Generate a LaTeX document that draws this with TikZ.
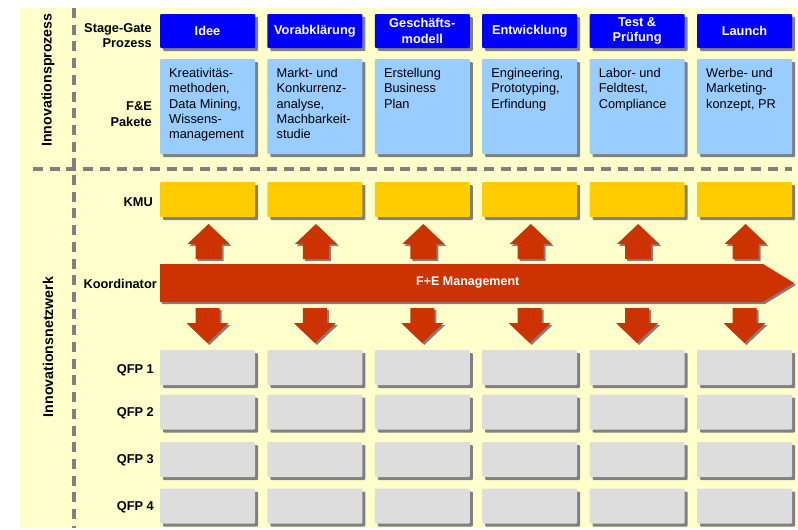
\documentclass[tikz,border=0pt]{standalone}
\usepackage{fontspec}
\setmainfont{Liberation Sans}
\usetikzlibrary{shadows}
\definecolor{bgyellow}{HTML}{FFFFCC}
\definecolor{sgblue}{HTML}{0000FF}
\definecolor{feblue}{HTML}{99CCFF}
\definecolor{kmuyellow}{HTML}{FFCC00}
\definecolor{coordred}{HTML}{CC3300}
\definecolor{qfpgray}{HTML}{DDDDDD}
\definecolor{shadowgray}{HTML}{808080}
\definecolor{dashgray}{HTML}{808080}
\begin{document}
\begin{tikzpicture}[x=1pt,y=-1pt,
  font=\fontsize{12.8}{15.3}\selectfont,
  boxshadow/.style={drop shadow={shadow xshift=3pt,shadow yshift=-3pt,fill=shadowgray,opacity=1}},
  cell/.style={boxshadow,draw=none,rounded corners=1pt,minimum width=95pt,inner sep=0pt},
  sgbox/.style={cell,fill=sgblue,minimum height=34pt,text=white,font=\fontsize{12.8}{15.3}\selectfont\bfseries,align=center},
  febox/.style={cell,fill=feblue,minimum height=95pt},
  fetext/.style={anchor=north west,inner sep=0pt,align=left},
  kmubox/.style={cell,fill=kmuyellow,minimum height=35pt},
  qfpbox/.style={cell,fill=qfpgray,minimum height=35pt},
  rowlabel/.style={anchor=east,inner sep=0pt,align=right,font=\fontsize{12.8}{15.3}\selectfont\bfseries},
  sidelabel/.style={rotate=90,inner sep=0pt,font=\fontsize{14.2}{16}\selectfont\bfseries},
  sep/.style={draw=dashgray,line width=3.3pt,dash pattern=on 10pt off 6.7pt},
  blockarrow/.style={fill=coordred,drop shadow={shadow xshift=2pt,shadow yshift=-2pt,fill=shadowgray,opacity=1}}
]
\useasboundingbox (0,0) rectangle (798,530);
% background
\fill[bgyellow] (20,8) rectangle (798,528);
% separators
\coordinate (vtop) at (74,8);
\coordinate (vbot) at (74,528);
\coordinate (hl) at (33,169);
\coordinate (hr) at (792,169);
\draw[sep] (vtop) -- (vbot);
\draw[sep] (hl) -- (hr);

% side labels
\node[sidelabel] (ip) at (48,80) {Innovationsprozess};
\node[sidelabel] (inw) at (48,347) {Innovationsnetzwerk};

% row labels
\node[rowlabel] (lsg) at (152,35.5) {Stage-Gate\\Prozess};
\node[rowlabel] (lfe) at (152,114) {F\&E\\Pakete};
\node[rowlabel] (lkmu) at (153,202) {KMU};
\node[rowlabel] (lko) at (157,284) {Koordinator};
\node[rowlabel] (lq1) at (154,370) {QFP 1};
\node[rowlabel] (lq2) at (154,413) {QFP 2};
\node[rowlabel] (lq3) at (154,460) {QFP 3};
\node[rowlabel] (lq4) at (154,507) {QFP 4};

% stage-gate boxes
\node[sgbox] (sg1) at (207.5,31) {Idee};
\node[sgbox] (sg2) at (314.9,31) {Vorabklärung};
\node[sgbox] (sg3) at (422.3,31) {Geschäfts-\\modell};
\node[sgbox] (sg4) at (529.7,31) {Entwicklung};
\node[sgbox] (sg5) at (637.1,31) {Test \&\\Prüfung};
\node[sgbox] (sg6) at (744.5,31) {Launch};

% F&E, KMU and QFP boxes
\foreach \i/\cx in {1/207.5,2/314.9,3/422.3,4/529.7,5/637.1,6/744.5}{
  \node[febox] (fe\i) at (\cx,106.5) {};
  \node[kmubox] (kmu\i) at (\cx,199.5) {};
  \node[qfpbox] (qa\i) at (\cx,367.5) {};
  \node[qfpbox] (qb\i) at (\cx,412) {};
  \node[qfpbox] (qc\i) at (\cx,459.5) {};
  \node[qfpbox] (qd\i) at (\cx,506) {};
}
\node[fetext] (fet1) at (169,68) {Kreativitäs-\\methoden,\\Data Mining,\\Wissens-\\management};
\node[fetext] (fet2) at (276.4,68) {Markt- und\\Konkurrenz-\\analyse,\\Machbarkeit-\\studie};
\node[fetext] (fet3) at (383.8,68) {Erstellung\\Business\\Plan};
\node[fetext] (fet4) at (491.2,68) {Engineering,\\Prototyping,\\Erfindung};
\node[fetext] (fet5) at (598.6,68) {Labor- und\\Feldtest,\\Compliance};
\node[fetext] (fet6) at (706,68) {Werbe- und\\Marketing-\\konzept, PR};

% coordinator arrow
\fill[blockarrow] (160,264) -- (763,264) -- (794,283) -- (763,302) -- (160,302) -- cycle;
\node[anchor=west,inner sep=0pt,text=white,font=\fontsize{12.5}{15}\selectfont\bfseries] (fem) at (416,283) {F+E Management};

% up and down block arrows
\foreach \cx in {208.5,315.9,423.3,530.7,638.1,745.5}{
  \fill[blockarrow] (\cx-21,244) -- (\cx,224) -- (\cx+21,244) -- (\cx+13,244) -- (\cx+13,259) -- (\cx-13,259) -- (\cx-13,244) -- cycle;
  \fill[blockarrow] (\cx-13,308) -- (\cx+11,308) -- (\cx+11,323) -- (\cx+20,323) -- (\cx-1,343) -- (\cx-22,323) -- (\cx-13,323) -- cycle;
}
\end{tikzpicture}
\end{document}
